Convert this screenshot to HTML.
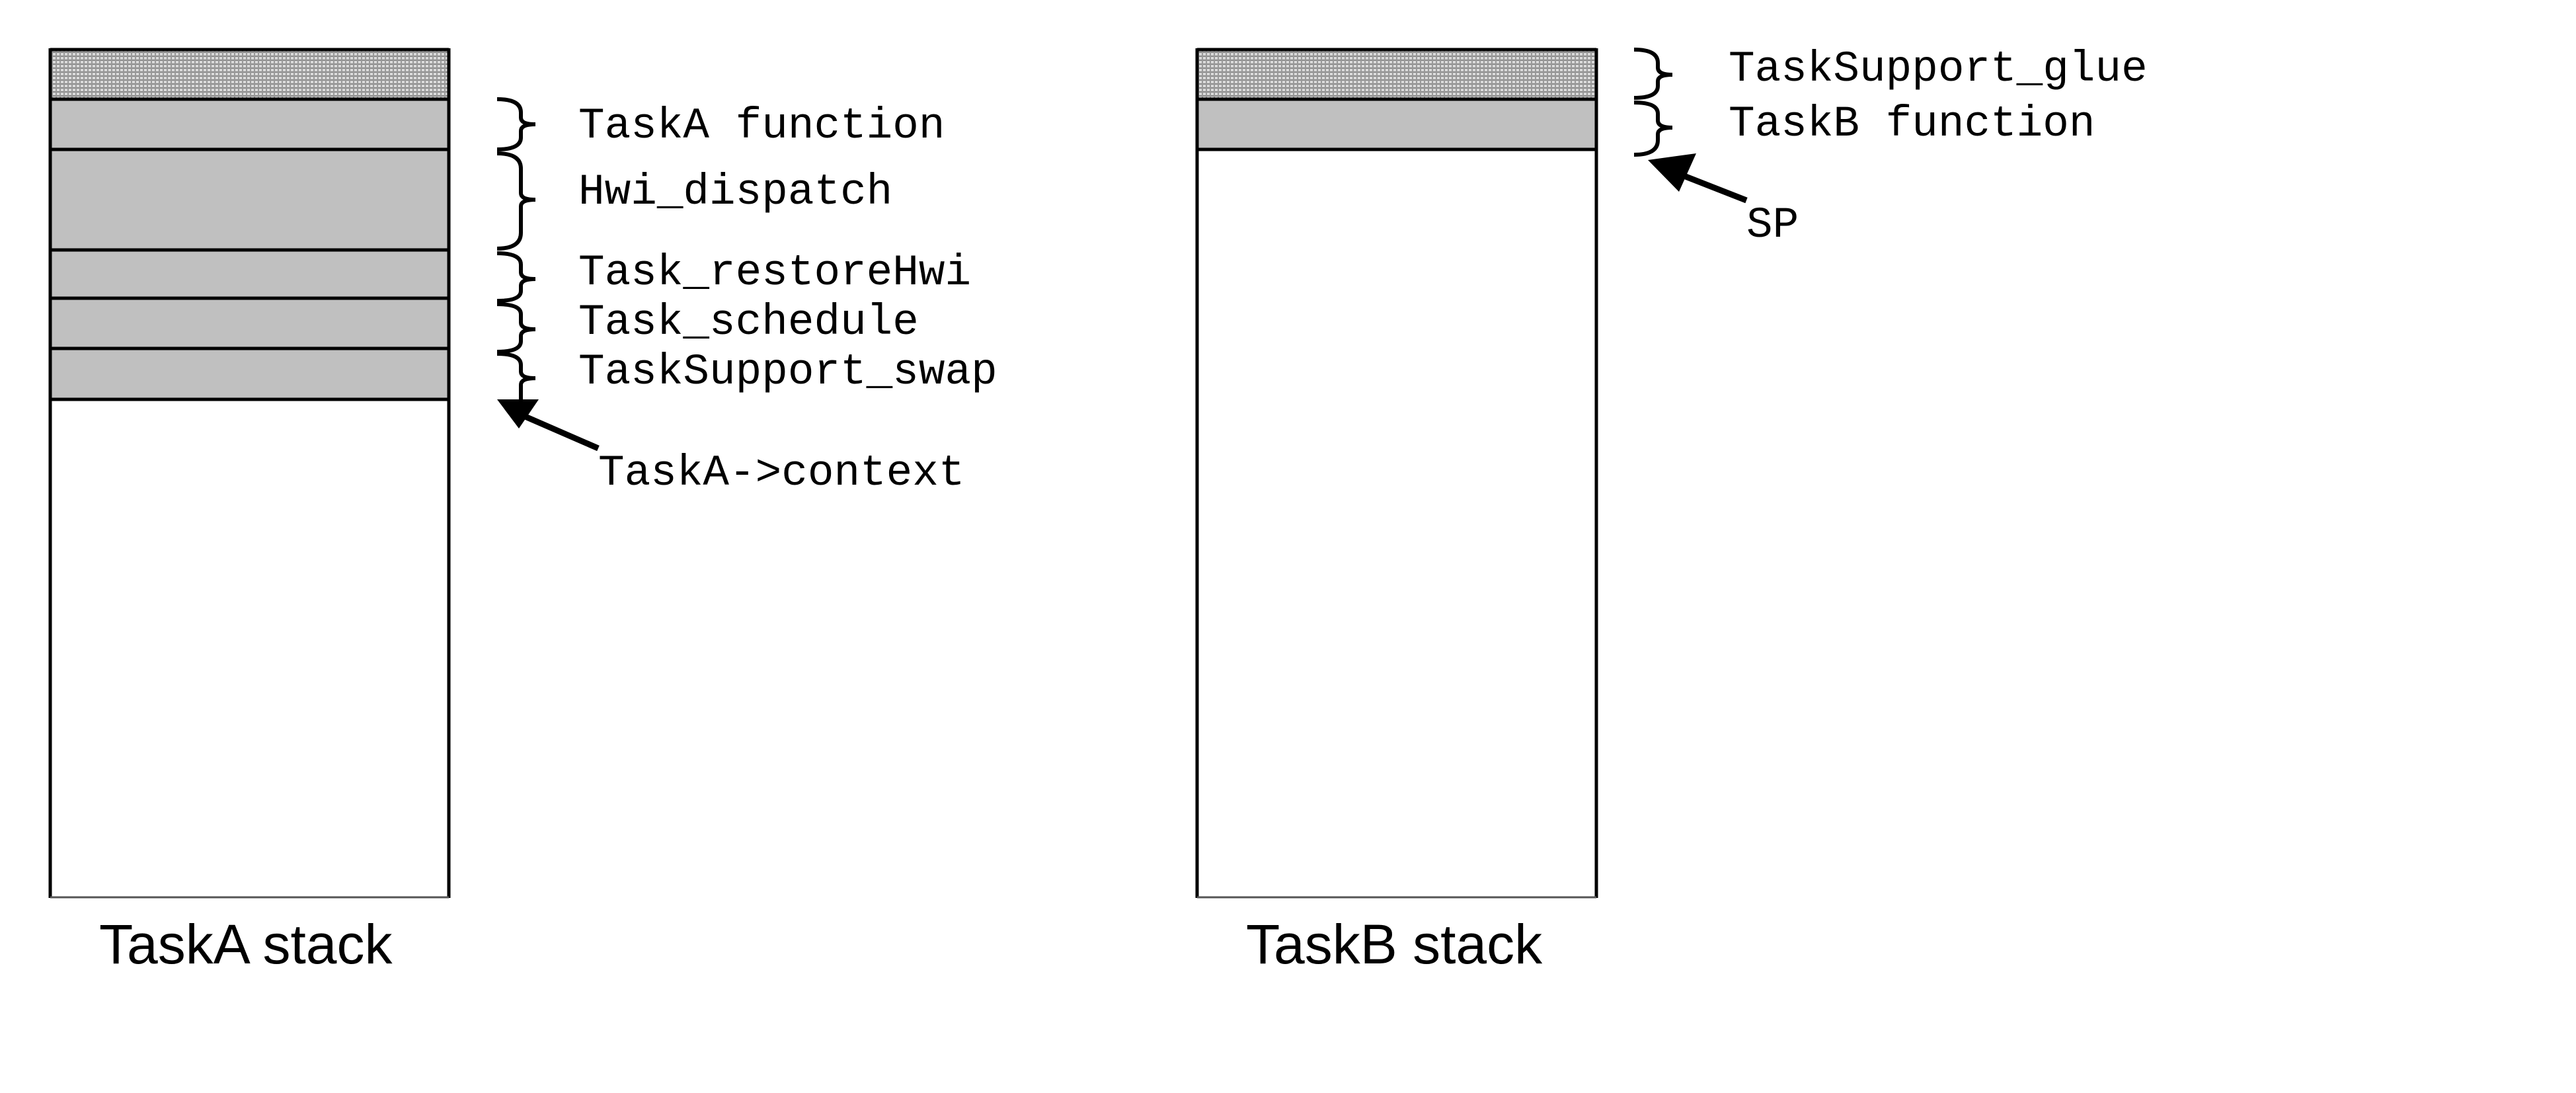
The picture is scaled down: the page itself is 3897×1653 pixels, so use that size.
<!DOCTYPE html>
<html><head><meta charset="utf-8"><style>
html,body{margin:0;padding:0;background:#fff}
svg{display:block}
.m{font-family:"Liberation Mono",monospace;font-size:66px;fill:#000}
.s{font-family:"Liberation Sans",sans-serif;font-size:84px;fill:#000}
</style></head><body>
<svg width="3897" height="1653" viewBox="0 0 3897 1653" xmlns="http://www.w3.org/2000/svg">
<defs>
<pattern id="dots" width="6" height="6" patternUnits="userSpaceOnUse">
<rect width="6" height="6" fill="#d8d8d8"/><rect width="6" height="2" fill="#888"/><rect width="2" height="6" fill="#999"/>
</pattern>
</defs>
<!-- Stack A -->
<rect x="76" y="75" width="603" height="75" fill="url(#dots)"/>
<rect x="76" y="150" width="603" height="454" fill="#c0c0c0"/>
<g stroke="#000" stroke-width="5" fill="none">
<line x1="76" y1="75" x2="679" y2="75"/>
<line x1="76" y1="150" x2="679" y2="150"/>
<line x1="76" y1="226" x2="679" y2="226"/>
<line x1="76" y1="378" x2="679" y2="378"/>
<line x1="76" y1="451" x2="679" y2="451"/>
<line x1="76" y1="527" x2="679" y2="527"/>
<line x1="76" y1="604" x2="679" y2="604"/>
<line x1="76" y1="73" x2="76" y2="1358"/>
<line x1="679" y1="73" x2="679" y2="1358"/>
</g>
<line x1="76" y1="1357" x2="679" y2="1357" stroke="#555" stroke-width="3"/>
<!-- Stack B -->
<rect x="1811" y="75" width="604" height="75" fill="url(#dots)"/>
<rect x="1811" y="150" width="604" height="76" fill="#c0c0c0"/>
<g stroke="#000" stroke-width="5" fill="none">
<line x1="1811" y1="75" x2="2415" y2="75"/>
<line x1="1811" y1="150" x2="2415" y2="150"/>
<line x1="1811" y1="226" x2="2415" y2="226"/>
<line x1="1811" y1="73" x2="1811" y2="1358"/>
<line x1="2415" y1="73" x2="2415" y2="1358"/>
</g>
<line x1="1811" y1="1357" x2="2415" y2="1357" stroke="#555" stroke-width="3"/>
<!-- Braces -->
<g stroke="#000" stroke-width="6" fill="none">
<path d="M752 150 Q788 150 788 170 L788 178 Q788 188 810 188 Q788 188 788 198 L788 208 Q788 226 752 226"/>
<path d="M752 232 Q788 232 788 255 L788 292 Q788 302 810 302 Q788 302 788 312 L788 352 Q788 376 752 376"/>
<path d="M752 383 Q788 383 788 400 L788 412 Q788 422 810 422 Q788 422 788 432 L788 440 Q788 455 752 455"/>
<path d="M752 460 Q788 460 788 475 L788 488 Q788 498 810 498 Q788 498 788 508 L788 516 Q788 532 752 532"/>
<path d="M752 535 Q788 535 788 552 L788 562 Q788 572 810 572 Q788 572 788 582 L788 604"/>
<path d="M2472 75 Q2508 75 2508 95 L2508 102 Q2508 113 2530 113 Q2508 113 2508 123 L2508 130 Q2508 148 2472 148"/>
<path d="M2472 155 Q2508 155 2508 172 L2508 182 Q2508 193 2530 193 Q2508 193 2508 203 L2508 212 Q2508 234 2472 234"/>
</g>
<!-- Arrows -->
<line x1="905" y1="678" x2="790" y2="628" stroke="#000" stroke-width="9"/>
<polygon points="752,604 815,604 785,648" fill="#000"/>
<line x1="2642" y1="303" x2="2545" y2="265" stroke="#000" stroke-width="9"/>
<polygon points="2493,242 2540,290 2566,232" fill="#000"/>
<!-- Labels -->
<text class="m" x="875" y="208">TaskA function</text>
<text class="m" x="875" y="308">Hwi_dispatch</text>
<text class="m" x="875" y="430">Task_restoreHwi</text>
<text class="m" x="875" y="505">Task_schedule</text>
<text class="m" x="875" y="580">TaskSupport_swap</text>
<text class="m" x="905" y="733">TaskA-&gt;context</text>
<text class="m" x="2615" y="122">TaskSupport_glue</text>
<text class="m" x="2615" y="205">TaskB function</text>
<text class="m" x="2642" y="358">SP</text>
<text class="s" x="150" y="1457">TaskA stack</text>
<text class="s" x="1885" y="1457">TaskB stack</text>
</svg>
</body></html>
